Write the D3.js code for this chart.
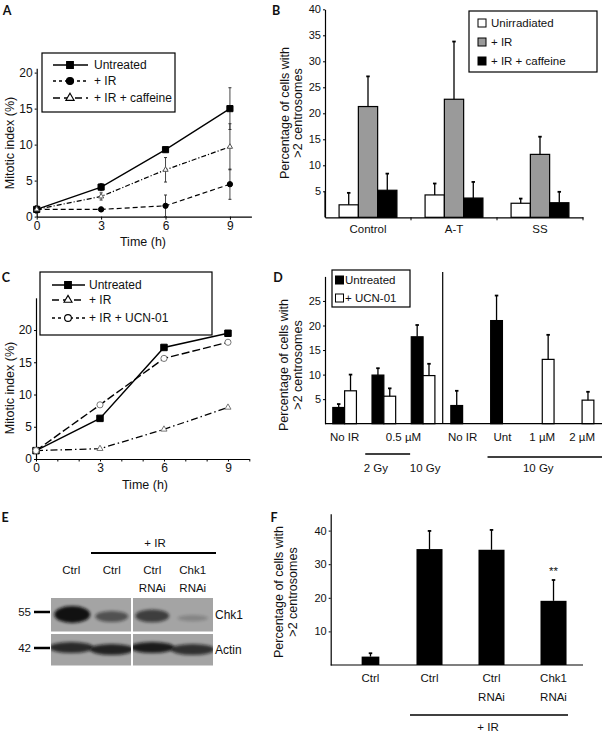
<!DOCTYPE html>
<html><head><meta charset="utf-8">
<script src="https://cdn.jsdelivr.net/npm/d3@7"></script>
<style>
body{margin:0;background:#fff}
svg{display:block;font-family:"Liberation Sans",Arial,sans-serif}
</style></head><body>
<svg id="c" width="603" height="734"></svg>
<script>
// ---------- DATA ----------
// Panel A
const timesA = [0, 3, 6, 9];
const untreatedA = [1.0, 4.1, 9.3, 15.0];
const untreatedAErr = [0.5, 0.5, 0.3, 2.9];
const irA = [1.0, 1.0, 1.5, 4.5];
const irAErr = [0.4, 0.3, 1.5, 2.1];
const caffeineA = [1.0, 2.8, 6.5, 9.7];
const caffeineAErr = [0.5, 0.5, 1.7, 3.2];
const xTicksA = [0, 3, 6, 9];
const yTicksA = [0, 5, 10, 15, 20];
const legendA = ["Untreated", "+ IR", "+ IR + caffeine"];

// Panel B
const categoriesB = ["Control", "A-T", "SS"];
const seriesB = ["Unirradiated", "+ IR", "+ IR + caffeine"];
const unirradiatedB = [2.4, 4.3, 2.7];
const unirradiatedBErr = [2.3, 2.2, 0.9];
const irB = [21.3, 22.7, 12.1];
const irBErr = [5.8, 11.1, 3.4];
const caffeineB = [5.2, 3.7, 2.8];
const caffeineBErr = [3.2, 3.1, 2.1];
const yTicksB = [5, 10, 15, 20, 25, 30, 35, 40];

// Panel C
const timesC = [0, 3, 6, 9];
const untreatedC = [1.3, 6.3, 17.3, 19.5];
const irC = [1.3, 1.6, 4.6, 8.0];
const ucnC = [1.3, 8.4, 15.6, 18.1];
const xLabelTicksC = [0, 3, 6, 9];
const yTicksC = [0, 5, 10, 15, 20];
const legendC = ["Untreated", "+ IR", "+ IR + UCN-01"];

// Panel D
const seriesD = ["Untreated", "+ UCN-01"];
const groupsDLeft = ["No IR", "2 Gy", "10 Gy"];
const untreatedDLeft = [3.3, 9.9, 17.7];
const untreatedDLeftErr = [0.7, 1.4, 2.4];
const ucnDLeft = [6.7, 5.6, 9.8];
const ucnDLeftErr = [3.3, 1.6, 2.4];
const groupsDRight = ["No IR", "Unt", "1 µM", "2 µM"];
const untreatedDRight = [3.7, 21.0, null, null];
const untreatedDRightErr = [3.0, 5.1, null, null];
const ucnDRight = [null, null, 13.1, 4.8];
const ucnDRightErr = [null, null, 5.0, 1.7];
const yTicksD = [5, 10, 15, 20, 25];
const drugLabelD = "0.5 µM";
const doseLabelsD = ["2 Gy", "10 Gy"];
const rightDoseD = "10 Gy";

// Panel E (western blot)
const laneTopE = ["Ctrl", "Ctrl", "Ctrl", "Chk1"];
const laneBottomE = ["", "", "RNAi", "RNAi"];
const chk1BandE = [1.0, 0.5, 0.65, 0.1];
const actinBandE = [0.85, 0.9, 0.95, 0.8];
const markersE = ["55", "42"];
const rowLabelsE = ["Chk1", "Actin"];

// Panel F
const labelTopF = ["Ctrl", "Ctrl", "Ctrl", "Chk1"];
const labelBottomF = ["", "", "RNAi", "RNAi"];
const valuesF = [2.5, 34.5, 34.3, 19.1];
const errF = [1.0, 5.4, 5.9, 6.2];
const yTicksF = [10, 20, 30, 40];

// ---------- HELPERS ----------
const svg = d3.select("#c");
const FF = '"Liberation Sans", Arial, sans-serif';

function styleAxis(g, fs) {
  g.attr("font-family", FF).attr("font-size", fs || 11.5);
  g.select(".domain").attr("stroke", "#000").attr("stroke-width", 1.2);
  g.selectAll(".tick line").attr("stroke", "#000").attr("stroke-width", 1);
  g.selectAll(".tick text").attr("fill", "#111");
}
function txt(g, x, y, s, opts) {
  opts = opts || {};
  return g.append("text").attr("x", x).attr("y", y).attr("dy", "0.35em")
    .attr("text-anchor", opts.anchor || "middle")
    .attr("font-size", opts.size || 11.5)
    .attr("font-family", opts.family || FF)
    .attr("font-weight", opts.weight || "normal")
    .attr("fill", "#111")
    .text(s);
}
function vtxt(g, x, y, s, size) {
  return g.append("text").attr("transform", `translate(${x},${y}) rotate(-90)`)
    .attr("dy", "0.35em").attr("text-anchor", "middle").attr("fill", "#111")
    .attr("font-size", size || 12.5).attr("font-family", FF).text(s);
}
function panelLetter(x, y, s) {
  txt(svg, x, y, s, {size: 12.5, weight: "bold", family: "Lato, 'DejaVu Sans', sans-serif"});
}
function errUp(g, x, y0, y1, cap) {
  g.append("line").attr("x1", x).attr("x2", x).attr("y1", y0).attr("y2", y1)
    .attr("stroke", "#000").attr("stroke-width", 1.3);
  g.append("line").attr("x1", x - cap / 2).attr("x2", x + cap / 2).attr("y1", y1).attr("y2", y1)
    .attr("stroke", "#000").attr("stroke-width", 1.8);
}

// ---------- PANEL A ----------
(function () {
  const g = svg.append("g");
  const x = d3.scaleLinear([0, 10], [36.7, 251.4]);
  const y = d3.scaleLinear([0, 20.6], [216.6, 68.3]);
  styleAxis(g.append("g").attr("transform", `translate(0,${y(0)})`)
    .call(d3.axisBottom(x).tickValues(xTicksA).tickSize(3).tickPadding(2).tickSizeOuter(0)), 12);
  styleAxis(g.append("g").attr("transform", `translate(${x(0)},0)`)
    .call(d3.axisLeft(y).tickValues(yTicksA).tickSize(2).tickPadding(2).tickSizeOuter(0)), 12);
  vtxt(g, 10, 143, "Mitotic index (%)", 12.5);
  txt(g, 143, 242, "Time (h)", {size: 12.5});

  const series = [
    {v: untreatedA, e: untreatedAErr, dash: null, sym: d3.symbolSquare, size: 38, fill: "#000", stroke: "#000", lw: 1.3},
    {v: irA, e: irAErr, dash: "5,3", sym: d3.symbolCircle, size: 22, fill: "#000", stroke: "#000", lw: 1.2},
    {v: caffeineA, e: caffeineAErr, dash: "5,2,1.2,2", sym: d3.symbolTriangle, size: 12, fill: "#fff", stroke: "#555", lw: 1.2}
  ];
  series.forEach(s => {
    s.v.forEach((v, i) => {
      const xx = x(timesA[i]);
      g.append("line").attr("x1", xx).attr("x2", xx).attr("y1", y(v - s.e[i])).attr("y2", y(v + s.e[i]))
        .attr("stroke", "#333").attr("stroke-width", 0.9);
      [v - s.e[i], v + s.e[i]].forEach(t => g.append("line").attr("x1", xx - 1.5).attr("x2", xx + 1.5)
        .attr("y1", y(t)).attr("y2", y(t)).attr("stroke", "#333").attr("stroke-width", 1));
    });
  });
  series.forEach(s => {
    g.append("path").datum(s.v).attr("fill", "none").attr("stroke", "#000").attr("stroke-width", s.lw)
      .attr("stroke-dasharray", s.dash)
      .attr("d", d3.line().x((d, i) => x(timesA[i])).y(d => y(d)));
    g.selectAll(null).data(s.v).enter().append("path")
      .attr("transform", (d, i) => `translate(${x(timesA[i])},${y(d)})`)
      .attr("d", d3.symbol(s.sym, s.size)).attr("fill", s.fill).attr("stroke", s.stroke).attr("stroke-width", 1);
  });
  // legend
  g.append("rect").attr("x", 42).attr("y", 53).attr("width", 133).attr("height", 59)
    .attr("fill", "#fff").attr("stroke", "#000").attr("stroke-width", 1.2);
  const legDash = [null, "3,3", "7,4"];
  const legSym = [d3.symbolSquare, d3.symbolCircle, d3.symbolTriangle];
  const legSize = [45, 40, 30];
  const legFill = ["#000", "#000", "#fff"];
  legendA.forEach((name, i) => {
    const yy = [65, 81, 98][i];
    g.append("line").attr("x1", 53).attr("x2", 88).attr("y1", yy).attr("y2", yy)
      .attr("stroke", "#000").attr("stroke-width", 1.3).attr("stroke-dasharray", legDash[i]);
    g.append("path").attr("transform", `translate(70,${yy})`).attr("d", d3.symbol(legSym[i], legSize[i]))
      .attr("fill", legFill[i]).attr("stroke", "#000").attr("stroke-width", 1.1);
    txt(g, 94, yy, name, {anchor: "start", size: 12});
  });
  panelLetter(7, 11, "A");
})();

// ---------- PANEL B ----------
(function () {
  const g = svg.append("g");
  const y = d3.scaleLinear([0, 40], [217.3, 9.3]);
  const x0 = d3.scaleBand(categoriesB, [325, 583]);
  const x1 = d3.scaleBand(seriesB, [0, x0.bandwidth()]).paddingInner(0).paddingOuter(0.73);
  const color = d3.scaleOrdinal(seriesB, ["#fff", "#9a9a9a", "#000"]);
  const vals = [unirradiatedB, irB, caffeineB];
  const errs = [unirradiatedBErr, irBErr, caffeineBErr];
  seriesB.forEach((s, si) => {
    categoriesB.forEach((c, ci) => {
      const bx = x0(c) + x1(s);
      g.append("rect").attr("x", bx).attr("y", y(vals[si][ci])).attr("width", x1.bandwidth())
        .attr("height", y(0) - y(vals[si][ci])).attr("fill", color(s)).attr("stroke", "#000").attr("stroke-width", 1.2);
      errUp(g, bx + x1.bandwidth() / 2, y(vals[si][ci]), y(vals[si][ci] + errs[si][ci]), 3.5);
    });
  });
  styleAxis(g.append("g").attr("transform", `translate(325,0)`)
    .call(d3.axisLeft(y).tickValues(yTicksB).tickSize(2).tickPadding(2).tickSizeOuter(0)), 11);
  g.append("line").attr("x1", 325).attr("x2", 325).attr("y1", y(0)).attr("y2", y(5)).attr("stroke", "#000").attr("stroke-width", 1.2);
  const xa = g.append("g").attr("transform", `translate(0,${y(0)})`)
    .call(d3.axisBottom(x0).tickSize(0).tickPadding(8).tickSizeOuter(0));
  styleAxis(xa, 11.5);
  categoriesB.concat([null]).forEach((c, i) => {
    const bx = c === null ? x0.range()[1] : x0(c);
    if (i > 0) g.append("line").attr("x1", bx).attr("x2", bx).attr("y1", y(0)).attr("y2", y(0) + 3).attr("stroke", "#000").attr("stroke-width", 1);
  });
  vtxt(g, 285, 113, "Percentage of cells with", 12.5);
  vtxt(g, 298, 113, ">2 centrosomes", 12.5);
  // legend
  g.append("rect").attr("x", 469).attr("y", 11).attr("width", 128).attr("height", 61)
    .attr("fill", "#fff").attr("stroke", "#000").attr("stroke-width", 1.2);
  seriesB.forEach((s, i) => {
    const yy = [23, 42, 61][i];
    g.append("rect").attr("x", 478).attr("y", yy - 4).attr("width", 8).attr("height", 8)
      .attr("fill", color(s)).attr("stroke", "#000").attr("stroke-width", 1);
    txt(g, 491, yy, s, {anchor: "start", size: 11.5});
  });
  panelLetter(276, 11, "B");
})();

// ---------- PANEL C ----------
(function () {
  const g = svg.append("g");
  const x = d3.scaleLinear([0, 10], [36, 249.3]);
  const y = d3.scaleLinear([0, 25], [459, 297.8]);
  styleAxis(g.append("g").attr("transform", `translate(0,${y(0)})`)
    .call(d3.axisBottom(x).tickValues(d3.range(0, 11)).tickFormat(d => xLabelTicksC.includes(d) ? d : "")
      .tickSize(2.5).tickPadding(2).tickSizeOuter(0)), 12);
  styleAxis(g.append("g").attr("transform", `translate(${x(0)},0)`)
    .call(d3.axisLeft(y).tickValues(yTicksC).tickSize(2).tickPadding(2).tickSizeOuter(0)), 12);
  vtxt(g, 10, 388, "Mitotic index (%)", 12.5);
  txt(g, 145, 485, "Time (h)", {size: 12.5});
  const series = [
    {v: untreatedC, dash: null, sym: d3.symbolSquare, size: 42, fill: "#000", stroke: "#000", lw: 1.4},
    {v: irC, dash: "7,3,1.5,3", sym: d3.symbolTriangle, size: 16, fill: "#fff", stroke: "#777", lw: 1.3},
    {v: ucnC, dash: "8,3", sym: d3.symbolCircle, size: 30, fill: "#fff", stroke: "#777", lw: 1.4}
  ];
  series.forEach(s => {
    g.append("path").datum(s.v).attr("fill", "none").attr("stroke", "#000").attr("stroke-width", s.lw)
      .attr("stroke-dasharray", s.dash)
      .attr("d", d3.line().x((d, i) => x(timesC[i])).y(d => y(d)));
  });
  series.forEach(s => {
    g.selectAll(null).data(s.v).enter().append("path")
      .attr("transform", (d, i) => `translate(${x(timesC[i])},${y(d)})`)
      .attr("d", d3.symbol(s.sym, s.size)).attr("fill", s.fill).attr("stroke", s.stroke).attr("stroke-width", 1);
  });
  // legend
  g.append("rect").attr("x", 40).attr("y", 272).attr("width", 172).attr("height", 63)
    .attr("fill", "#fff").attr("stroke", "#000").attr("stroke-width", 1.2);
  const legDash = [null, "7,4", "3,3"];
  const legSym = [d3.symbolSquare, d3.symbolTriangle, d3.symbolCircle];
  const legSize = [45, 28, 36];
  const legFill = ["#000", "#fff", "#fff"];
  legendC.forEach((name, i) => {
    const yy = [285, 300, 318][i];
    g.append("line").attr("x1", 52).attr("x2", 85).attr("y1", yy).attr("y2", yy)
      .attr("stroke", "#000").attr("stroke-width", 1.3).attr("stroke-dasharray", legDash[i]);
    g.append("path").attr("transform", `translate(68,${yy})`).attr("d", d3.symbol(legSym[i], legSize[i]))
      .attr("fill", legFill[i]).attr("stroke", "#000").attr("stroke-width", 1.1);
    txt(g, 89, yy, name, {anchor: "start", size: 12});
  });
  panelLetter(6, 278, "C");
})();

// ---------- PANEL D ----------
(function () {
  const g = svg.append("g");
  const y = d3.scaleLinear([0, 30], [423.7, 276.4]);
  const xL = d3.scaleBand(d3.range(groupsDLeft.length), [325, 442.7]);
  const xR = d3.scaleBand(d3.range(groupsDRight.length), [442.7, 602]);
  const xiL = d3.scaleBand(seriesD, [0, xL.bandwidth()]).paddingOuter(0.66);
  const xiR = d3.scaleBand(seriesD, [0, xR.bandwidth()]).paddingOuter(0.69);
  const color = d3.scaleOrdinal(seriesD, ["#000", "#fff"]);
  function drawBars(xs, xi, vals, errs, s) {
    vals.forEach((v, i) => {
      if (v == null) return;
      const bx = xs(i) + xi(s);
      g.append("rect").attr("x", bx).attr("y", y(v)).attr("width", xi.bandwidth()).attr("height", y(0) - y(v))
        .attr("fill", color(s)).attr("stroke", "#000").attr("stroke-width", 1.2);
      errUp(g, bx + xi.bandwidth() / 2, y(v), y(v + errs[i]), 3.5);
    });
  }
  drawBars(xL, xiL, untreatedDLeft, untreatedDLeftErr, seriesD[0]);
  drawBars(xL, xiL, ucnDLeft, ucnDLeftErr, seriesD[1]);
  drawBars(xR, xiR, untreatedDRight, untreatedDRightErr, seriesD[0]);
  drawBars(xR, xiR, ucnDRight, ucnDRightErr, seriesD[1]);
  styleAxis(g.append("g").attr("transform", `translate(325,0)`)
    .call(d3.axisLeft(y).tickValues(yTicksD).tickSize(2).tickPadding(2).tickSizeOuter(0)), 11);
  g.append("line").attr("x1", 325).attr("x2", 602).attr("y1", y(0)).attr("y2", y(0)).attr("stroke", "#000").attr("stroke-width", 1.2);
  g.append("line").attr("x1", 442.7).attr("x2", 442.7).attr("y1", 272).attr("y2", y(0)).attr("stroke", "#000").attr("stroke-width", 1.2);
  const cL = i => xL(i) + xL.bandwidth() / 2;
  const cR = i => xR(i) + xR.bandwidth() / 2;
  const ly = 437;
  txt(g, cL(0), ly, groupsDLeft[0], {size: 11.5});
  txt(g, (cL(1) + cL(2)) / 2, ly, drugLabelD, {size: 11.5});
  groupsDRight.forEach((n, i) => txt(g, cR(i), ly, n, {size: 11.5}));
  g.append("line").attr("x1", xL(1) + 1).attr("x2", xL(2) + xL.bandwidth() * 0.17).attr("y1", 454).attr("y2", 454)
    .attr("stroke", "#000").attr("stroke-width", 1.3);
  txt(g, cL(1) - 8, 468, doseLabelsD[0], {size: 11.5});
  txt(g, cL(2) + 2, 468, doseLabelsD[1], {size: 11.5});
  g.append("line").attr("x1", xR(1) + 5).attr("x2", 602).attr("y1", 457).attr("y2", 457)
    .attr("stroke", "#000").attr("stroke-width", 1.3);
  txt(g, (cR(1) + cR(3)) / 2 - 4, 468, rightDoseD, {size: 11.5});
  vtxt(g, 284, 365, "Percentage of cells with", 12.5);
  vtxt(g, 298, 365, ">2 centrosomes", 12.5);
  // legend
  g.append("rect").attr("x", 332).attr("y", 270).attr("width", 78).attr("height", 37)
    .attr("fill", "#fff").attr("stroke", "#000").attr("stroke-width", 1.2);
  seriesD.forEach((s, i) => {
    const yy = [280, 298][i];
    g.append("rect").attr("x", 335.5).attr("y", yy - 4).attr("width", 8).attr("height", 8)
      .attr("fill", color(s)).attr("stroke", "#000").attr("stroke-width", 1);
    txt(g, 345, yy, s, {anchor: "start", size: 11.5});
  });
  panelLetter(278, 278, "D");
})();

// ---------- PANEL E ----------
(function () {
  const g = svg.append("g");
  const defs = svg.append("defs");
  defs.append("filter").attr("id", "blur").attr("x", "-50%").attr("y", "-100%").attr("width", "200%").attr("height", "300%")
    .append("feGaussianBlur").attr("stdDeviation", 1.8);
  const x = d3.scaleBand(d3.range(laneTopE.length), [51, 213]);
  const cx = i => x(i) + x.bandwidth() / 2;
  txt(g, 155, 543, "+ IR", {size: 11.5});
  g.append("line").attr("x1", 91).attr("x2", 216).attr("y1", 553).attr("y2", 553).attr("stroke", "#000").attr("stroke-width", 2);
  laneTopE.forEach((s, i) => txt(g, cx(i), 570, s, {size: 11.5}));
  laneBottomE.forEach((s, i) => txt(g, cx(i), 588, s, {size: 11.5}));
  const panels = [[51, 598, 80, 33.5], [133, 598, 80, 33.5], [51, 634, 80, 31.5], [133, 634, 80, 31.5]];
  panels.forEach((p, k) => {
    const cid = "clipE" + k;
    defs.append("clipPath").attr("id", cid).append("rect").attr("x", p[0]).attr("y", p[1]).attr("width", p[2]).attr("height", p[3]);
    g.append("rect").attr("x", p[0]).attr("y", p[1]).attr("width", p[2]).attr("height", p[3]).attr("fill", "#a4a4a4");
  });
  const bandG = g.append("g");
  // Chk1 bands
  chk1BandE.forEach((v, i) => {
    const k = i < 2 ? 0 : 1;
    bandG.append("ellipse").attr("clip-path", `url(#clipE${k})`)
      .attr("cx", cx(i) + (i === 0 ? 1 : 0)).attr("cy", 618.5 - 4 * v).attr("rx", 15 + 3 * v).attr("ry", 2.5 + 6 * v)
      .attr("fill", "#111").attr("opacity", 0.12 + 0.85 * v).attr("filter", "url(#blur)");
  });
  // Actin bands
  actinBandE.forEach((v, i) => {
    const k = i < 2 ? 2 : 3;
    bandG.append("ellipse").attr("clip-path", `url(#clipE${k})`)
      .attr("cx", cx(i)).attr("cy", 648 + (i % 2 ? 1.5 : -0.5)).attr("rx", 22).attr("ry", 5.5)
      .attr("fill", "#111").attr("opacity", 0.95 * v).attr("filter", "url(#blur)");
  });
  markersE.forEach((m, i) => {
    const yy = [612, 648][i];
    txt(g, 31, yy, m, {anchor: "end", size: 11.5});
    g.append("line").attr("x1", 34).attr("x2", 50).attr("y1", yy).attr("y2", yy).attr("stroke", "#000").attr("stroke-width", 2.5);
  });
  rowLabelsE.forEach((s, i) => txt(g, 215, [615, 650][i], s, {anchor: "start", size: 12}));
  panelLetter(5, 518, "E");
})();

// ---------- PANEL F ----------
(function () {
  const g = svg.append("g");
  const y = d3.scaleLinear([0, 45], [665, 513.8]);
  const x = d3.scaleBand(d3.range(valuesF.length), [334, 587]).paddingInner(0.58).paddingOuter(0.33);
  valuesF.forEach((v, i) => {
    const w = i === 0 ? x.bandwidth() * 0.68 : x.bandwidth();
    const c = x(i) + x.bandwidth() / 2 + (i === 0 ? 3 : 0);
    g.append("rect").attr("x", c - w / 2).attr("y", y(v)).attr("width", w).attr("height", y(0) - y(v))
      .attr("fill", "#000");
    errUp(g, c, y(v), y(v + errF[i]), 3.5);
  });
  styleAxis(g.append("g").attr("transform", `translate(330.7,0)`)
    .call(d3.axisLeft(y).tickValues(yTicksF).tickSize(2).tickPadding(2).tickSizeOuter(0)), 11);
  g.append("line").attr("x1", 330.7).attr("x2", 583).attr("y1", y(0)).attr("y2", y(0)).attr("stroke", "#000").attr("stroke-width", 1.2);
  const cx = i => x(i) + x.bandwidth() / 2 + (i === 0 ? 3 : 0);
  labelTopF.forEach((s, i) => txt(g, cx(i), 678, s, {size: 11.5}));
  labelBottomF.forEach((s, i) => txt(g, cx(i), 697, s, {size: 11.5}));
  txt(g, cx(3), 571, "**", {size: 11.5});
  g.append("line").attr("x1", 410).attr("x2", 568).attr("y1", 715).attr("y2", 715).attr("stroke", "#000").attr("stroke-width", 1.5);
  txt(g, 488, 727, "+ IR", {size: 11.5});
  vtxt(g, 279, 592, "Percentage of cells with", 12.5);
  vtxt(g, 293, 592, ">2 centrosomes", 12.5);
  panelLetter(274, 518, "F");
})();
</script>
</body></html>
